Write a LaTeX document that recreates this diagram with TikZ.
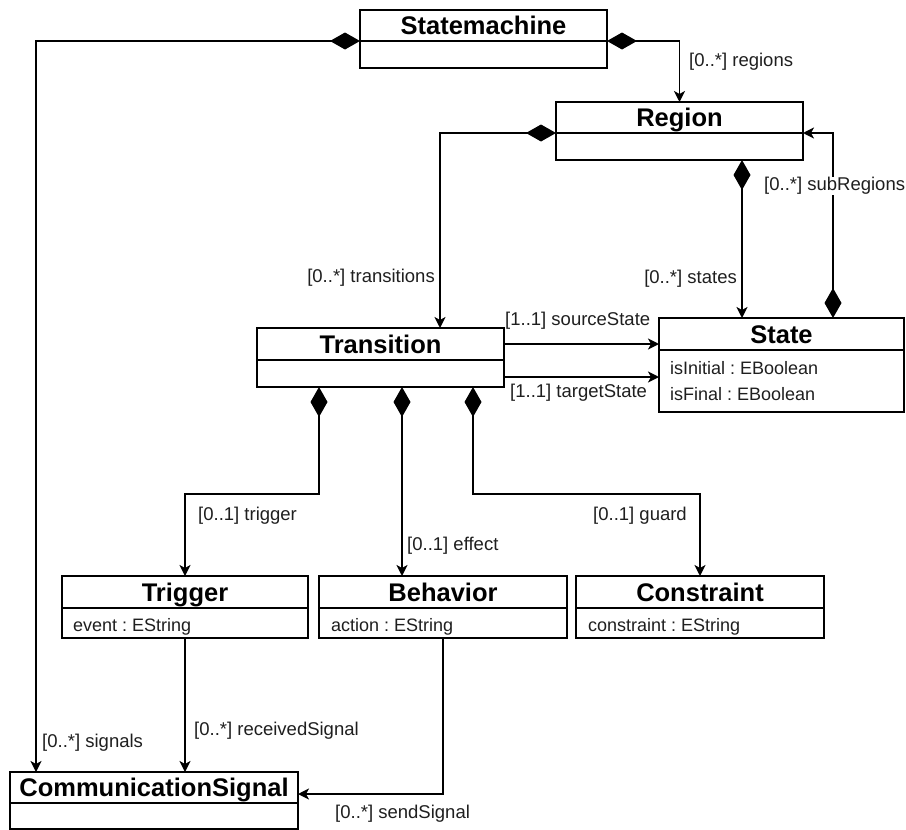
\documentclass[tikz,border=0pt]{standalone}
\usepackage{fontspec}
\setmainfont{Liberation Sans}
\usetikzlibrary{arrows.meta}
\frenchspacing

\newcommand{\clsfont}{\fontsize{25.5}{30}\selectfont\bfseries}
\newcommand{\lblfont}{\fontsize{18.5}{22}\selectfont}
\newcommand{\attrfont}{\fontsize{18}{22}\selectfont}

\tikzset{
  uml/.style={draw, line width=1.8pt, inner sep=0pt, outer sep=0pt},
  classhead/.style={uml, font=\clsfont, text height=18.5pt, text depth=0pt},
  classbody/.style={uml, anchor=north},
  role/.style={inner sep=0pt, font=\lblfont, text=black!88},
  attr/.style={inner sep=0pt, anchor=base west, font=\attrfont, text=black!88},
  link/.style={line width=1.8pt, -{Stealth[length=11pt,width=11pt,inset=3pt]}},
  comp/.style={line width=1.8pt, {Diamond[length=30pt,width=17pt]}-{Stealth[length=11pt,width=11pt,inset=3pt]}},
}

\begin{document}
\begin{tikzpicture}[x=1pt,y=-1pt]
\useasboundingbox[fill=white] (0,0) rectangle (906,830);

% classes: header compartment + attribute compartment
\node[classhead, minimum width=247pt, minimum height=31pt] (smh) at (483.5,25.5) {Statemachine};
\node[classbody, minimum width=247pt, minimum height=27pt] (smb) at (smh.south) {};

\node[classhead, minimum width=247pt, minimum height=31pt] (rgh) at (679.5,117.5) {Region};
\node[classbody, minimum width=247pt, minimum height=27pt] (rgb) at (rgh.south) {};

\node[classhead, minimum width=247pt, minimum height=32pt] (trh) at (380.5,344) {Transition};
\node[classbody, minimum width=247pt, minimum height=27pt] (trb) at (trh.south) {};

\node[classhead, minimum width=245pt, minimum height=32pt] (sth) at (781.5,334) {State};
\node[classbody, minimum width=245pt, minimum height=62pt] (stb) at (sth.south) {};
\node[attr] (sta1) at (670,374) {isInitial : EBoolean};
\node[attr] (sta2) at (670,400) {isFinal : EBoolean};

\node[classhead, minimum width=246pt, minimum height=32pt] (tgh) at (185,592) {Trigger};
\node[classbody, minimum width=246pt, minimum height=30pt] (tgb) at (tgh.south) {};
\node[attr] (tga) at (73,631) {event : EString};

\node[classhead, minimum width=248pt, minimum height=32pt] (bhh) at (443,592) {Behavior};
\node[classbody, minimum width=248pt, minimum height=30pt] (bhb) at (bhh.south) {};
\node[attr] (bha) at (331,631) {action : EString};

\node[classhead, minimum width=248pt, minimum height=32pt] (cnh) at (700,592) {Constraint};
\node[classbody, minimum width=248pt, minimum height=30pt] (cnb) at (cnh.south) {};
\node[attr] (cna) at (588,631) {constraint : EString};

\node[classhead, minimum width=288pt, minimum height=31pt] (csh) at (154,787.5) {CommunicationSignal};
\node[classbody, minimum width=288pt, minimum height=26pt] (csb) at (csh.south) {};

% associations
\draw[comp] (smh.south west) -| ([xshift=26pt]csh.north west);
\draw[comp] (smh.south east) -| (rgh.north);
\draw[comp] (rgh.south west) -| ([xshift=59.5pt]trh.north);
\draw[comp] ([xshift=62.5pt]rgb.south) -- ([xshift=-39.5pt]sth.north);
\draw[comp] ([xshift=51.5pt]sth.north) |- (rgh.south east);
\draw[link] (trh.east) -- (trh.east -| sth.west);
\draw[link] ([yshift=-3.5pt]trb.east) -- ([yshift=-3.5pt]trb.east -| stb.west);
\draw[comp] ([xshift=-61.5pt]trb.south) -- ++(0,107) -| (tgh.north);
\draw[comp] ([xshift=21.5pt]trb.south) -- ([xshift=-41pt]bhh.north);
\draw[comp] ([xshift=92.5pt]trb.south) -- ++(0,107) -| (cnh.north);
\draw[link] (tgb.south) -- ([xshift=31pt]csh.north);
\draw[link] (bhb.south) |- ([yshift=-6.5pt]csh.east);

% role names
\node[role, anchor=west] (lregions) at (689,62) {[0..*] regions};
\node[role, anchor=east] (ltrans) at (435,278) {[0..*] transitions};
\node[role, anchor=east] (lstates) at (737,279) {[0..*] states};
\node[role, anchor=west, fill=white] (lsub) at (764,186) {[0..*] subRegions};
\node[role, anchor=west] (lsrc) at (505,321) {[1..1] sourceState};
\node[role, anchor=west] (ltgt) at (510,393) {[1..1] targetState};
\node[role, anchor=west] (ltrig) at (198,516) {[0..1] trigger};
\node[role, anchor=west] (leff) at (407,546) {[0..1] effect};
\node[role, anchor=east] (lguard) at (687,516) {[0..1] guard};
\node[role, anchor=west] (lsig) at (42,743) {[0..*] signals};
\node[role, anchor=west] (lrecv) at (194,731) {[0..*] receivedSignal};
\node[role, anchor=west] (lsend) at (335,814) {[0..*] sendSignal};
\end{tikzpicture}
\end{document}
